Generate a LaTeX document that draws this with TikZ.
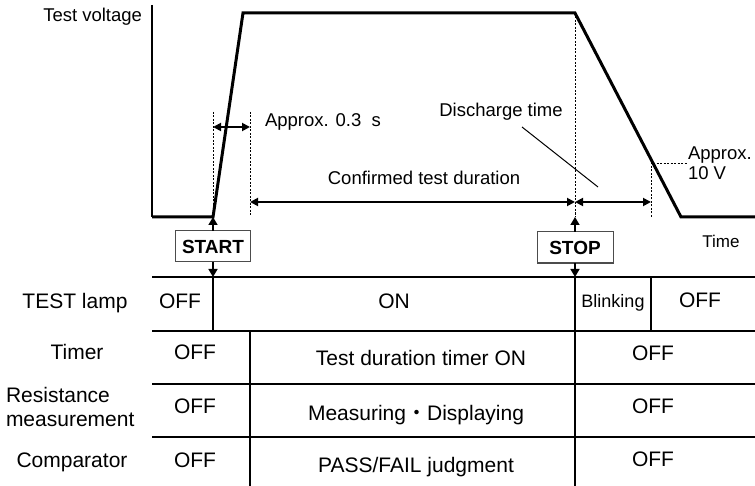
\documentclass[tikz,border=0pt]{standalone}
\usepackage{fontspec}
\setmainfont{Liberation Sans}
\newfontfamily\cjkfont{Noto Sans CJK JP}
\usetikzlibrary{arrows.meta}
\begin{document}
\begin{tikzpicture}[x=1bp,y=-1bp,
  every node/.style={inner sep=0pt, outer sep=0pt},
  lbl/.style={font=\fontsize{18.5bp}{21bp}\selectfont, anchor=base},
  cell/.style={font=\fontsize{21bp}{24bp}\selectfont, anchor=base},
  small/.style={font=\fontsize{18bp}{21bp}\selectfont, anchor=base},
  wave/.style={line width=3bp, line join=miter},
  axisline/.style={line width=2.2bp},
  guide/.style={line width=0.9bp, dash pattern=on 2bp off 1.5bp},
  dim/.style={line width=1.8bp, {Triangle[length=8bp,width=8bp]}-{Triangle[length=8bp,width=8bp]}},
  trig/.style={line width=1.5bp, -{Triangle[length=8bp,width=9bp]}},
  btn/.style={draw=black!70, line width=1bp, minimum width=75bp, minimum height=31bp, font=\fontsize{19bp}{22bp}\selectfont\bfseries},
  hline/.style={line width=2bp},
  vline/.style={line width=1.4bp},
  leader/.style={line width=1bp}
]
\useasboundingbox (0,0) rectangle (755,486);

% waveform and axis
\coordinate (ytop) at (152,5);
\coordinate (O) at (152,217);
\coordinate (r0) at (213,217);
\coordinate (r1) at (243,13);
\coordinate (f0) at (575,13);
\coordinate (f1) at (681,217);
\coordinate (xend) at (755,217);
\draw[axisline] (ytop) -- (O);
\draw[wave] (O) -- (r0) -- (r1) -- (f0) -- (f1) -- (xend);

% guide lines
\coordinate (g1t) at (213,112); \coordinate (g1b) at (213,217);
\coordinate (g2t) at (250,112); \coordinate (g2b) at (250,217);
\coordinate (g3b) at (575,217);
\coordinate (g4t) at (651,163); \coordinate (g4b) at (651,217);
\coordinate (g4r) at (687,163);
\draw[guide] (g1t) -- (g1b);
\draw[guide] (g2t) -- (g2b);
\draw[guide] (f0) -- (g3b);
\draw[guide] (g4b) -- (g4t) -- (g4r);

% dimension arrows
\coordinate (a1l) at (213,127); \coordinate (a1r) at (250,127);
\coordinate (a2l) at (250,202); \coordinate (a2r) at (575,202);
\coordinate (a3r) at (651,202);
\draw[dim] (a1l) -- (a1r);
\draw[dim] (a2l) -- (a2r);
\draw[dim] (a2r) -- (a3r);

% leader
\coordinate (ld0) at (522,127); \coordinate (ld1) at (598,187);
\draw[leader] (ld0) -- (ld1);

% top labels
\node[lbl, anchor=base east] (tv) at (142,22) {Test voltage};
\node[lbl, anchor=base west] (ap03) at (265,127) {Approx. 0.3\ \ s};
\node[lbl] (dis) at (501,117) {Discharge time};
\node[lbl] (conf) at (424,185) {Confirmed test duration};
\node[lbl, anchor=base west] (ap10a) at (688,160) {Approx.};
\node[lbl, anchor=base west] (ap10b) at (688,180) {10 V};
\node[lbl, font=\fontsize{17bp}{20bp}\selectfont] (time) at (721,248) {Time};

% buttons
\node[btn] (start) at (213,246.5) {START};
\node[btn, minimum width=76bp] (stop) at (575,247.5) {STOP};
\coordinate (t0) at (213,277);
\coordinate (t1) at (575,277);
\draw[trig] (start.north) -- (r0);
\draw[trig] (start.south) -- (t0);
\draw[trig] (stop.north) -- (g3b);
\draw[trig] (stop.south) -- (t1);

% table
\foreach \yy in {277,331,384,437} \draw[hline] (152,\yy) -- (755,\yy);
\draw[vline] (213,277) -- (213,331);
\draw[vline] (250,331) -- (250,486);
\draw[vline] (575,277) -- (575,486);
\draw[vline] (651,277) -- (651,331);

% row labels
\node[cell] (l1) at (75,308) {TEST lamp};
\node[cell] (l2) at (77,359) {Timer};
\node[cell, anchor=base west] (l3a) at (6,402) {Resistance};
\node[cell, anchor=base west] (l3b) at (6,426) {measurement};
\node[cell] (l4) at (72,467) {Comparator};

% cells
\node[cell] (c11) at (180,308) {OFF};
\node[cell] (c12) at (394,308) {ON};
\node[small] (c13) at (613,307) {Blinking};
\node[cell] (c14) at (700,307) {OFF};
\node[cell] (c21) at (195,359) {OFF};
\node[cell] (c22) at (421,365) {Test duration timer ON};
\node[cell] (c23) at (653,360) {OFF};
\node[cell] (c31) at (195,413) {OFF};
\node[cell] (c32) at (416,420) {Measuring{\cjkfont ・}Displaying};
\node[cell] (c33) at (653,413) {OFF};
\node[cell] (c41) at (195,467) {OFF};
\node[cell] (c42) at (416,472) {PASS/FAIL judgment};
\node[cell] (c43) at (653,466) {OFF};
\end{tikzpicture}
\end{document}
